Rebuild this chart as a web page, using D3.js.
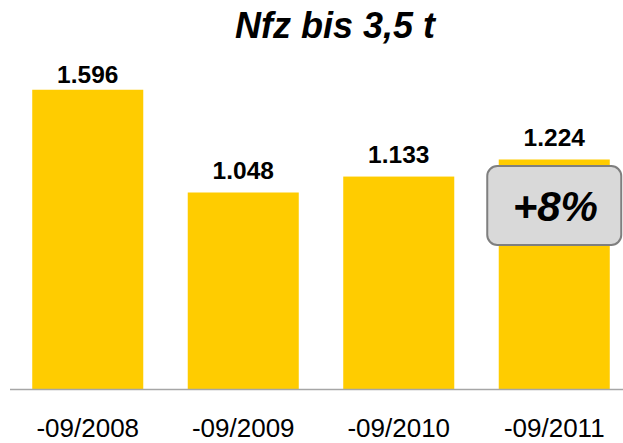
<!DOCTYPE html>
<html>
<head>
<meta charset="utf-8">
<script src="https://cdn.jsdelivr.net/npm/d3@7"></script>
<style>
  body { margin: 0; background: #fff; }
  text { font-family: "Liberation Sans", Arial, sans-serif; }
</style>
</head>
<body>
<div id="chart"></div>
<script>
const categories = ['-09/2008', '-09/2009', '-09/2010', '-09/2011'];
const values = [1596, 1048, 1133, 1224];
const valueLabels = ['1.596', '1.048', '1.133', '1.224'];
const title = 'Nfz bis 3,5 t';
const changeLabel = '+8%';

const width = 623;
const height = 443;

const svg = d3.select('#chart').append('svg')
  .attr('width', width)
  .attr('height', height);

const x = d3.scaleBand()
  .domain(categories)
  .range([10, 632])
  .paddingInner(0.286)
  .paddingOuter(0.143);

const y = d3.scaleLinear()
  .domain([0, 2000])
  .range([389, 14]);

// title
svg.append('text')
  .attr('x', 335)
  .attr('y', 38)
  .attr('text-anchor', 'middle')
  .style('font-size', '36px')
  .style('font-weight', 'bold')
  .style('font-style', 'italic')
  .attr('fill', '#000')
  .text(title);

// bars
svg.selectAll('rect.bar')
  .data(values)
  .enter()
  .append('rect')
  .attr('class', 'bar')
  .attr('x', (d, i) => x(categories[i]))
  .attr('y', d => y(d))
  .attr('width', x.bandwidth())
  .attr('height', d => y(0) - y(d))
  .attr('fill', '#ffcc00');

// value labels
svg.selectAll('text.val')
  .data(values)
  .enter()
  .append('text')
  .attr('class', 'val')
  .attr('x', (d, i) => x(categories[i]) + x.bandwidth() / 2)
  .attr('y', d => Math.max(y(d) - 13.5, 83))
  .attr('text-anchor', 'middle')
  .style('font-size', '24.5px')
  .style('font-weight', 'bold')
  .attr('fill', '#000')
  .text((d, i) => valueLabels[i]);

// baseline
svg.append('line')
  .attr('x1', 10)
  .attr('x2', width)
  .attr('y1', y(0) + 0.5)
  .attr('y2', y(0) + 0.5)
  .attr('stroke', '#a6a6a6')
  .attr('stroke-width', 1.5);

// category axis
const axis = svg.append('g')
  .attr('transform', 'translate(0,' + y(0) + ')')
  .call(d3.axisBottom(x).tickSize(0).tickPadding(30));
axis.select('.domain').remove();
axis.selectAll('text')
  .style('font-size', '26px')
  .style('font-family', '"Liberation Sans", Arial, sans-serif')
  .attr('fill', '#000');

// change badge on last bar
const last = categories[categories.length - 1];
const cx = x(last) + x.bandwidth() / 2;
const badge = svg.append('g');
badge.append('rect')
  .attr('x', cx - 67)
  .attr('y', 166)
  .attr('width', 134)
  .attr('height', 79)
  .attr('rx', 10)
  .attr('ry', 10)
  .attr('fill', '#d9d9d9')
  .attr('stroke', '#7f7f7f')
  .attr('stroke-width', 2);
badge.append('text')
  .attr('x', cx + 1)
  .attr('y', 221)
  .attr('text-anchor', 'middle')
  .style('font-size', '42px')
  .style('font-weight', 'bold')
  .style('font-style', 'italic')
  .attr('fill', '#000')
  .text(changeLabel);
</script>
</body>
</html>
